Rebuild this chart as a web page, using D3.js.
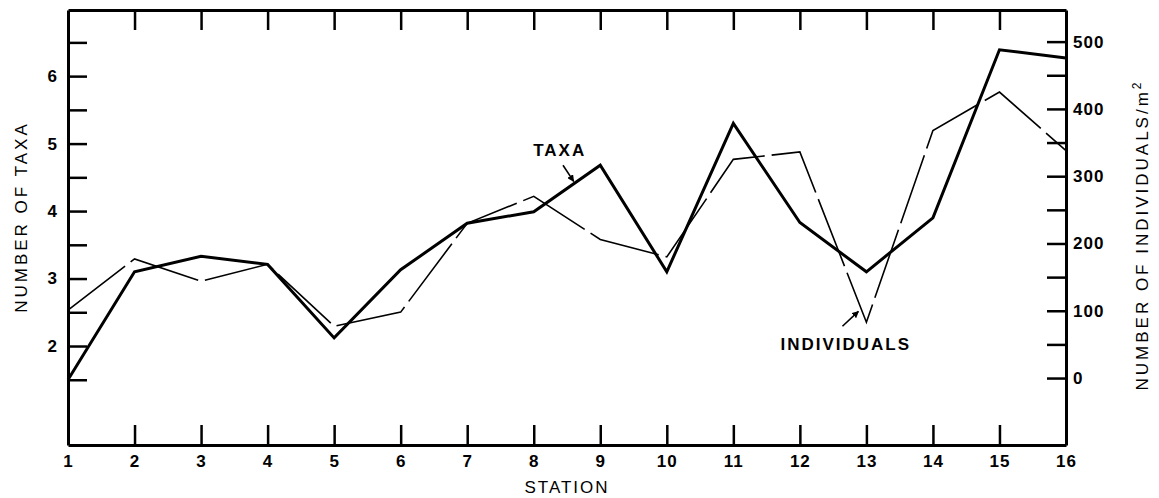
<!DOCTYPE html>
<html>
<head>
<meta charset="utf-8">
<script src="https://cdn.jsdelivr.net/npm/d3@7"></script>
<style>
  body { margin: 0; background: #fff; }
  text { font-family: "Liberation Sans", Arial, sans-serif; fill: #000; }
  .axis path, .axis line { stroke: #000; }
  .axis text { font-size: 17px; font-weight: bold; letter-spacing: 1px; }
</style>
</head>
<body>
<div id="chart"></div>
<script>
// data
var stations = [1, 2, 3, 4, 5, 6, 7, 8, 9, 10, 11, 12, 13, 14, 15, 16];
var taxa = [1.5, 3.1, 3.33, 3.21, 2.12, 3.13, 3.82, 3.99, 4.68, 3.1, 5.3, 3.83, 3.1, 3.9, 6.39, 6.27];
var individuals = [101, 177, 144, 169, 77, 98, 230, 270, 206, 180, 325, 336, 83, 368, 425, 338];

var leftTicks = [1.5, 2, 2.5, 3, 3.5, 4, 4.5, 5, 5.5, 6, 6.5];
var leftLabels = [2, 3, 4, 5, 6];
var rightTicks = [0, 50, 100, 150, 200, 250, 300, 350, 400, 450, 500];
var rightLabels = [0, 100, 200, 300, 400, 500];

var svgWidth = 1159;
var svgHeight = 498;

var margin = { top: 10, right: 93, bottom: 53, left: 68 };
var width = svgWidth - margin.left - margin.right;
var height = svgHeight - margin.top - margin.bottom;

var svg = d3.select("#chart")
  .append("svg")
  .attr("width", svgWidth)
  .attr("height", svgHeight);

var defs = svg.append("defs");
defs.append("marker")
  .attr("id", "arrow")
  .attr("viewBox", "0 0 10 10")
  .attr("refX", 9)
  .attr("refY", 5)
  .attr("markerWidth", 7)
  .attr("markerHeight", 7)
  .attr("markerUnits", "userSpaceOnUse")
  .attr("orient", "auto")
  .append("path")
  .attr("d", "M0,0L10,5L0,10Z")
  .attr("fill", "#000");

var chartGroup = svg.append("g")
  .attr("transform", `translate(${margin.left}, ${margin.top})`);

var xScale = d3.scaleLinear().domain([1, 16]).range([0, width]);
var yLeft = d3.scaleLinear().domain([0.533, 6.98]).range([height, 0]);
var yRight = d3.scaleLinear().domain([-99.5, 547]).range([height, 0]);

// axes, ticks pointing inward
var bottomAxis = d3.axisBottom(xScale)
  .tickValues(stations)
  .tickSizeInner(-20)
  .tickSizeOuter(0)
  .tickPadding(10)
  .tickFormat(d3.format("d"));
var topAxis = d3.axisTop(xScale)
  .tickValues(stations.slice(1, 15))
  .tickSizeInner(-20)
  .tickSizeOuter(0)
  .tickFormat("");
var leftAxis = d3.axisLeft(yLeft)
  .tickValues(leftTicks)
  .tickSizeInner(-19)
  .tickSizeOuter(0)
  .tickPadding(10)
  .tickFormat(d => leftLabels.includes(d) ? d : "");
var rightAxis = d3.axisRight(yRight)
  .tickValues(rightTicks)
  .tickSizeInner(-19)
  .tickSizeOuter(0)
  .tickPadding(7)
  .tickFormat(d => rightLabels.includes(d) ? d : "");

chartGroup.append("g")
  .attr("class", "axis")
  .attr("transform", `translate(0, ${height})`)
  .call(bottomAxis);
chartGroup.append("g")
  .attr("class", "axis")
  .call(topAxis)
  .selectAll(".tick text").remove();
chartGroup.append("g")
  .attr("class", "axis")
  .call(leftAxis);
chartGroup.append("g")
  .attr("class", "axis")
  .attr("transform", `translate(${width}, 0)`)
  .call(rightAxis);

chartGroup.selectAll(".axis path.domain")
  .attr("stroke-width", 3);
chartGroup.selectAll(".axis .tick line")
  .attr("stroke-width", 2.5);
chartGroup.selectAll(".axis .tick text").attr("fill", "#000");

// lines
var taxaLine = d3.line()
  .x((d, i) => xScale(stations[i]))
  .y(d => yLeft(d));
var indLine = d3.line()
  .x((d, i) => xScale(stations[i]))
  .y(d => yRight(d));

chartGroup.append("path")
  .datum(individuals)
  .attr("d", indLine)
  .attr("fill", "none")
  .attr("stroke", "#000")
  .attr("stroke-width", 1.6)
  .attr("stroke-dasharray", "72,7");

chartGroup.append("path")
  .datum(taxa)
  .attr("d", taxaLine)
  .attr("fill", "none")
  .attr("stroke", "#000")
  .attr("stroke-width", 3)
  .attr("stroke-linejoin", "miter");

// annotations
chartGroup.append("text")
  .attr("x", xScale(8.39))
  .attr("y", yLeft(4.81))
  .attr("text-anchor", "middle")
  .style("font-size", "17px")
  .style("font-weight", "bold")
  .style("letter-spacing", "2px")
  .text("TAXA");
chartGroup.append("line")
  .attr("x1", xScale(8.44)).attr("y1", yLeft(4.68))
  .attr("x2", xScale(8.6)).attr("y2", yLeft(4.44))
  .attr("stroke", "#000")
  .attr("stroke-width", 1.6)
  .attr("marker-end", "url(#arrow)");

chartGroup.append("text")
  .attr("x", xScale(12.69))
  .attr("y", yLeft(1.94))
  .attr("text-anchor", "middle")
  .style("font-size", "17px")
  .style("font-weight", "bold")
  .style("letter-spacing", "2px")
  .text("INDIVIDUALS");
chartGroup.append("line")
  .attr("x1", xScale(12.64)).attr("y1", yRight(77))
  .attr("x2", xScale(12.88)).attr("y2", yRight(99))
  .attr("stroke", "#000")
  .attr("stroke-width", 1.6)
  .attr("marker-end", "url(#arrow)");

// axis titles
chartGroup.append("text")
  .attr("transform", `translate(${width / 2}, ${height + 48})`)
  .attr("text-anchor", "middle")
  .style("font-size", "17px")
  .style("letter-spacing", "2px")
  .text("STATION");

chartGroup.append("text")
  .attr("transform", `translate(${21.5 - margin.left}, ${207}) rotate(-90)`)
  .attr("text-anchor", "middle")
  .attr("dy", "0.35em")
  .style("font-size", "17px")
  .style("letter-spacing", "3px")
  .text("NUMBER OF TAXA");

var rightTitle = chartGroup.append("text")
  .attr("transform", `translate(${width + 76}, ${225}) rotate(-90)`)
  .attr("text-anchor", "middle")
  .attr("dy", "0.35em")
  .style("font-size", "17px")
  .style("letter-spacing", "3px");
rightTitle.append("tspan").text("NUMBER OF INDIVIDUALS/m");
rightTitle.append("tspan")
  .attr("dy", "-7")
  .style("font-size", "12px")
  .text("2");
</script>
</body>
</html>
